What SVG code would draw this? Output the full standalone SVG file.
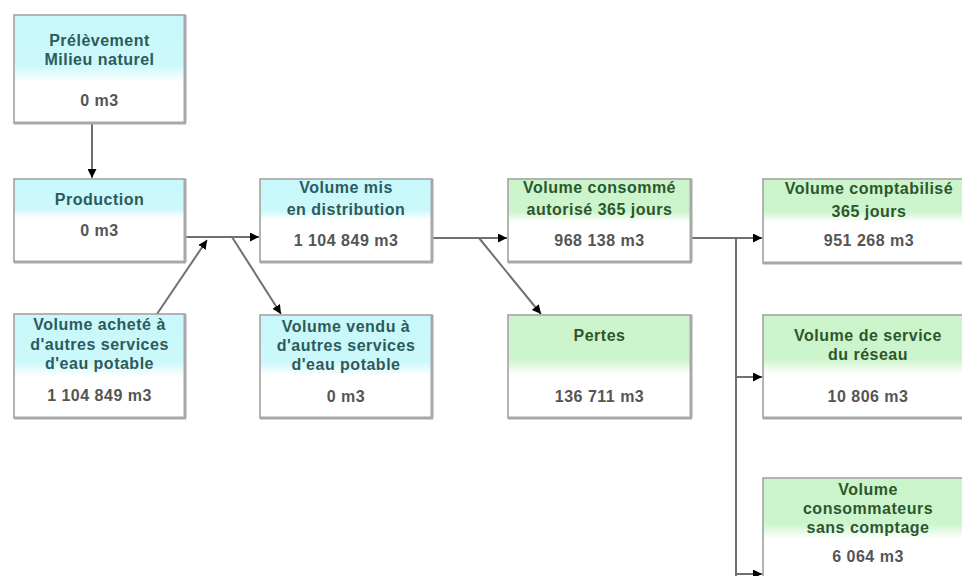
<svg xmlns="http://www.w3.org/2000/svg" width="962" height="576" viewBox="0 0 962 576">
<style>
.box{fill:#ffffff;stroke:#9a9a9a;stroke-width:1.5}
.shadow{fill:none;stroke:#a8a8a8;stroke-width:3}
.hc{fill:url(#gc)}
.hg{fill:url(#gg)}
.t{font-family:"Liberation Sans",Arial,sans-serif;font-weight:bold;font-size:16px;letter-spacing:0.5px;text-anchor:middle}
.tc{fill:#2f5a5a}
.tg{fill:#2d562d}
.v{fill:#555555}
.con{fill:none;stroke:#707070;stroke-width:2}
</style>
<defs>
<linearGradient id="gc" x1="0" y1="0" x2="0" y2="1">
<stop offset="0" stop-color="#c8f8fb"/>
<stop offset="0.75" stop-color="#cbf8fb"/>
<stop offset="1" stop-color="#ffffff"/>
</linearGradient>
<linearGradient id="gg" x1="0" y1="0" x2="0" y2="1">
<stop offset="0" stop-color="#cbf4cb"/>
<stop offset="0.75" stop-color="#cdf5cd"/>
<stop offset="1" stop-color="#ffffff"/>
</linearGradient>
<marker id="ah" markerUnits="userSpaceOnUse" markerWidth="9" markerHeight="9" viewBox="0 0 10 10" refX="10" refY="5" orient="auto">
<path d="M0,0 L10,5 L0,10 z" fill="#000000"/>
</marker>
</defs>

<g id="connectors">
<path class="con" d="M92,123 V178" marker-end="url(#ah)"/>
<path class="con" d="M185,237 H259" marker-end="url(#ah)"/>
<path class="con" d="M157,314 L207,240" marker-end="url(#ah)"/>
<path class="con" d="M232,237 L281,314" marker-end="url(#ah)"/>
<path class="con" d="M432,238 H507" marker-end="url(#ah)"/>
<path class="con" d="M479,238 L541,314" marker-end="url(#ah)"/>
<path class="con" d="M691,238 H762" marker-end="url(#ah)"/>
<path class="con" d="M736,238 V576"/>
<path class="con" d="M736,377 H762" marker-end="url(#ah)"/>
<path class="con" d="M736,574 H762" marker-end="url(#ah)"/>
</g>

<g id="prelevement">
<rect class="box" x="14" y="15" width="171" height="108"/>
<rect class="hc" x="15" y="16" width="169" height="66"/>
<path class="shadow" d="M14,123 H186 M185,15 V123"/>
<text class="t tc" x="99.5" y="46">Prélèvement</text>
<text class="t tc" x="99.5" y="65">Milieu naturel</text>
<text class="t v" x="99.5" y="106">0 m3</text>
</g>

<g id="production">
<rect class="box" x="14" y="179" width="171" height="83"/>
<rect class="hc" x="15" y="180" width="169" height="38"/>
<path class="shadow" d="M14,262 H186 M185,179 V262"/>
<text class="t tc" x="99.5" y="205">Production</text>
<text class="t v" x="99.5" y="236">0 m3</text>
</g>

<g id="distribution">
<rect class="box" x="260" y="179" width="172" height="83"/>
<rect class="hc" x="261" y="180" width="170" height="40"/>
<path class="shadow" d="M260,262 H433 M432,179 V262"/>
<text class="t tc" x="346" y="193">Volume mis</text>
<text class="t tc" x="346" y="215">en distribution</text>
<text class="t v" x="346" y="246">1 104 849 m3</text>
</g>

<g id="consomme">
<rect class="box" x="508" y="179" width="183" height="83"/>
<rect class="hg" x="509" y="180" width="181" height="42"/>
<path class="shadow" d="M508,262 H692 M691,179 V262"/>
<text class="t tg" x="599.5" y="193">Volume consommé</text>
<text class="t tg" x="599.5" y="215">autorisé 365 jours</text>
<text class="t v" x="599.5" y="246">968 138 m3</text>
</g>

<g id="comptabilise">
<rect class="box" x="763" y="179" width="212" height="84"/>
<rect class="hg" x="764" y="180" width="210" height="42"/>
<path class="shadow" d="M763,263 H975"/>
<text class="t tg" x="869" y="194">Volume comptabilisé</text>
<text class="t tg" x="869" y="217">365 jours</text>
<text class="t v" x="869" y="246">951 268 m3</text>
</g>

<g id="achete">
<rect class="box" x="14" y="314" width="171" height="104"/>
<rect class="hc" x="15" y="315" width="169" height="62"/>
<path class="shadow" d="M14,418 H186 M185,314 V418"/>
<text class="t tc" x="99.5" y="330">Volume acheté à</text>
<text class="t tc" x="99.5" y="350">d'autres services</text>
<text class="t tc" x="99.5" y="369">d'eau potable</text>
<text class="t v" x="99.5" y="401">1 104 849 m3</text>
</g>

<g id="vendu">
<rect class="box" x="260" y="315" width="172" height="103"/>
<rect class="hc" x="261" y="316" width="170" height="60"/>
<path class="shadow" d="M260,418 H433 M432,315 V418"/>
<text class="t tc" x="346" y="332">Volume vendu à</text>
<text class="t tc" x="346" y="351">d'autres services</text>
<text class="t tc" x="346" y="370">d'eau potable</text>
<text class="t v" x="346" y="402">0 m3</text>
</g>

<g id="pertes">
<rect class="box" x="508" y="315" width="183" height="103"/>
<rect class="hg" x="509" y="316" width="181" height="58"/>
<path class="shadow" d="M508,418 H692 M691,315 V418"/>
<text class="t tg" x="599.5" y="341">Pertes</text>
<text class="t v" x="599.5" y="402">136 711 m3</text>
</g>

<g id="service">
<rect class="box" x="763" y="315" width="212" height="103"/>
<rect class="hg" x="764" y="316" width="210" height="58"/>
<path class="shadow" d="M763,418 H975"/>
<text class="t tg" x="868" y="341">Volume de service</text>
<text class="t tg" x="868" y="360">du réseau</text>
<text class="t v" x="868" y="402">10 806 m3</text>
</g>

<g id="consommateurs">
<rect class="box" x="763" y="478" width="212" height="110"/>
<rect class="hg" x="764" y="479" width="210" height="60"/>
<text class="t tg" x="868" y="495">Volume</text>
<text class="t tg" x="868" y="514">consommateurs</text>
<text class="t tg" x="868" y="533">sans comptage</text>
<text class="t v" x="868" y="562">6 064 m3</text>
</g>
</svg>
